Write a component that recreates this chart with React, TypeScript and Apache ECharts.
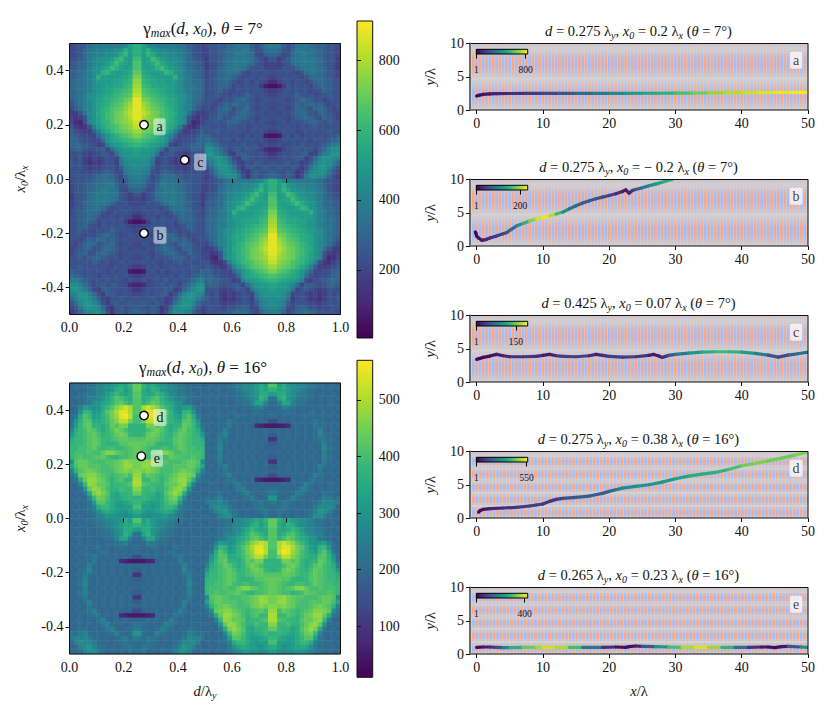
import { useEffect, useRef } from "react";
import * as echarts from "echarts";

// quadrant rows, one base-36 level per cell, half width (the field repeats mirrored about d = 0.25)
const upper7 = [
  "89abdefffffghkn", "89acefgghhijnkn", "89adfghhiijmokn", "9abdfhiijknplkp", "abcdfhijkmpmlkq",
  "bbcdgijkmpnlklq", "bcdegijnolkklmr", "bcdfginkkkklmnt", "cddfgikkkllmnou", "cdefgijkllmmopv",
  "cdefgijklmnopqw", "cdegijklmnopqrx", "bdegijlmnopqstz", "aceghjlmnpqrtvz", "8bdghjlnoqrsuwz",
  "77aeijmnpqstvxz", "867ahjlnpqstuwz", "8549hjlnoqstuvy", "a7569gkmopqstux", "b9877bgkmoqrstv",
  "cb9988cgjlnpqrt", "cca9989djlmnopq", "cdcba978gjklmno", "bcca9abb8dhjkkl", "99a8789ba8eijjk",
  "a8a76878a98fijj", "b9a75768a97ehii", "a9a87889aa8bghi", "9a998a9bcb89fgh", "9aaaabcddca8cfg",
];
const lower7 = [
  "9aabbcdeeeb9bef", "8aabcdeeffc9ade", "8aabcdeffed98bc", "7aabdeffffeb97a", "79abdefffeda978",
  "79acdeffeca9a88", "8aacdeeda89a9a9", "8abcddca89a9a98", "9abcdca89a8a985", "9abccb8a9a9a732",
  "9abca98a9a9a987", "9aba98a9aca9a98", "9a98a9bcdba89a9", "a98acbdcbca9a99", "98acdc9bcda89a8",
  "89acc9acdcb9a89", "8abc9acdcba89a9", "9ab9bccba9a8a98", "a99a9ba9a89a9a9", "9aba9a9a98a9a87",
  "caa9a9a98a8a932", "dcb9aa8a99a9a87", "gfdba9a9b9a98a8", "iigdb8ab9ba9854", "jjhfc87bbaa9a86",
  "ghjjhd97bba9a98", "dgijifb87a9ba9a", "adhjjhe97ab9aba", "8bfijihc86ab9ab", "79cghiif96ab9bc",
];
const upper16 = [
  "cdddeeghijkmlnr", "cdcdefghijmnkmr", "dcdeffhhkmomlmq", "cddegghjlnqpnmq", "dcdefijlmoqrpnq",
  "cdgkjijmoqtvxvq", "cdjonjknqsvyyvq", "dfmqoklnpsuyzwp", "djnqqmmnprtwwsp", "ekoqrnnmorqssnn",
  "gmoprqomoqsrpnn", "jnopqrpnoprsron", "moopqrqoopqrrqq", "noopqrqonnoqqrr", "ooppqrpoppoopqr",
  "opppqpprttrqpqr", "opqppqqrponppqr", "iqrrqpppqqrsuts", "lprrqqqppqrsuus", "gnqrsrqppprstst",
  "eirsttrqpopqrpu", "dfmruusrpnpqoov", "ccgoutrrqnoopqv", "dcdjrutrpnnpoot", "cdcfmsusqmlnnor",
  "dcdchosrpmlmnon", "cdcdekqqomkklmo", "dcddegmoomkjkkp", "cdcddfilmlkjikm", "dcdcdeghjjiihik",
];
const lower16 = [
  "cdcddefghhijmkq", "dcddcdefghikmln", "cdcddcdefgijmmk", "dcdcdcdeefhjnle", "cddcdccdeegllgd",
  "dcdcdcdcddefgdc", "cdcdcdecdcdedcd", "dcdddcdedcdcdcd", "cdcddfdcdcdcdc9", "dcdddfcdcdc5433",
  "cdcdgdcdcdcdcdc", "dcdehdcdcdcdcdb", "cddfedcdcdcdcd6", "dcdgdcdcdcdcdcb", "cdehdcdcdcdcdcc",
  "dcdgcdcdcdcdcdc", "cdegdcdcdcdcdcb", "dcdfcdcdcdcdcd6", "cdcegdcdcdcdcdb", "dcdcfdcdcdcdcdc",
  "cdcdegdcdcdccc9", "dcdcdefcdcd5433", "cddcdcegdcdcdcc", "dcdcdcdfgdcdcde", "cddecdcdfgdcddf",
  "edfgdcdcdegdcdj", "fgghfddcdcdefdf", "cgihhfdcdcdefdd", "cdgijgedcdcdefd", "dcdgiifdcdcdcfd",
];
const step7 = 25;
const step16 = 16;

const viridis = ["#440154", "#482878", "#3e4989", "#31688e", "#26828e", "#1f9e89", "#35b779", "#6ece58", "#b5de2b", "#fde725"];

const markers7 = [
  { name: "a", d: 0.275, x0: 0.2 },
  { name: "b", d: 0.275, x0: -0.2 },
  { name: "c", d: 0.425, x0: 0.07 },
];
const markers16 = [
  { name: "d", d: 0.275, x0: 0.38 },
  { name: "e", d: 0.265, x0: 0.23 },
];

// one period of the wave stripes and its strength in y
const stripeCycle = [1, 1, 0, -1, -1, 0];
const bands7 = [0.2, 0.55, 0.8, 0.95, 1, 1, 0.85, 0.6, 0.3, -0.1, -0.4, -0.7, -0.9, -1, -1, -0.9, -0.7, -0.35, 0.15, 0.45];
const bands16 = [
  0.6, 1, 1, 0.6, 0, -0.6, -1, -1, -0.5, 0, 0.7, 1, 0.9, 0.3, -0.3, -0.8, -1, -0.8, -0.2, 0.4, 0.9, 1, 0.7, 0.1, -0.5,
];

const aX = [0, 0.3, 1, 2, 3, 5, 7.5, 10, 12.5, 15, 17.5, 20, 22.5, 25, 27.5, 30, 32.5, 35, 37.5, 40, 42.5, 45, 47.5, 50];
const aY = [2.1, 2.2, 2.35, 2.42, 2.45, 2.48, 2.5, 2.5, 2.5, 2.5, 2.5, 2.5, 2.5, 2.52, 2.52, 2.55, 2.55, 2.58, 2.6, 2.6, 2.62, 2.65, 2.65, 2.65];
const aGamma = [1, 10, 40, 60, 75, 100, 130, 170, 210, 260, 310, 370, 420, 470, 510, 560, 620, 680, 720, 750, 780, 800, 815, 830];

const bX = [-0.2, -0.1, 0, 0.3, 0.8, 1.5, 2, 3, 4, 4.5, 5, 6, 7, 8, 9, 10, 11, 12, 13, 14, 15, 16, 17, 18, 19, 20, 21, 22, 22.5, 23, 23.5, 24, 25, 26, 27, 28, 29, 29.5];
const bY = [2.1, 1.9, 1.5, 1.2, 0.85, 1.0, 1.2, 1.5, 1.85, 2.0, 2.35, 3.0, 3.4, 3.75, 4.05, 4.3, 4.55, 4.8, 5.1, 5.6, 6.05, 6.45, 6.8, 7.1, 7.35, 7.6, 7.85, 8.2, 8.45, 7.95, 8.35, 8.5, 8.75, 9.05, 9.3, 9.6, 9.9, 10];
const bGamma = [1, 3, 6, 10, 15, 25, 30, 40, 50, 55, 65, 100, 130, 170, 210, 232, 225, 190, 130, 95, 80, 75, 70, 65, 60, 55, 40, 25, 15, 20, 30, 55, 85, 105, 125, 140, 150, 155];

const cX = [0, 1, 2, 3, 4, 5, 7, 9, 10, 11, 12, 13, 15, 17, 18, 19, 20, 22, 24, 26, 26.7, 27.5, 28, 29, 30, 32, 34, 36, 38, 40, 42, 44, 45.5, 47, 48.5, 50];
const cY = [3.4, 3.7, 3.9, 4.15, 3.95, 3.8, 3.8, 3.85, 4.0, 4.15, 3.95, 3.85, 3.8, 3.95, 4.15, 4.0, 3.85, 3.75, 3.8, 4.0, 4.15, 3.9, 3.7, 4.0, 4.15, 4.35, 4.5, 4.55, 4.55, 4.5, 4.3, 4.05, 3.75, 4.05, 4.25, 4.5];
const cGamma = [3, 6, 8, 10, 18, 25, 30, 32, 20, 12, 25, 35, 42, 35, 14, 25, 35, 40, 38, 25, 12, 15, 18, 40, 70, 90, 110, 130, 135, 118, 95, 70, 35, 55, 65, 75];

const dX = [0.3, 0.5, 1, 2, 4, 6, 8, 9, 10, 11, 12, 13, 15, 17, 19, 20, 21, 22, 24, 26, 28, 30, 32, 34, 36, 38, 40, 42, 44, 46, 48, 50];
const dY = [0.9, 1.1, 1.3, 1.4, 1.5, 1.6, 1.8, 1.95, 2.1, 2.5, 2.8, 2.95, 3.1, 3.3, 3.7, 4.0, 4.25, 4.5, 4.75, 5.0, 5.4, 5.9, 6.3, 6.6, 6.85, 7.3, 7.85, 8.2, 8.6, 9.0, 9.45, 9.9];
const dGamma = [3, 10, 25, 45, 70, 90, 105, 110, 100, 85, 95, 120, 165, 170, 165, 170, 210, 250, 280, 290, 295, 300, 340, 350, 350, 370, 420, 455, 440, 430, 425, 470];

const eX = [0, 1, 2, 3, 4, 5, 7, 9, 10, 12, 14, 16, 19, 21, 22.5, 23, 24, 25, 27, 29, 31, 33, 35, 37, 39, 41, 43, 44, 45, 46, 47, 49, 50];
const eY = [1, 1.05, 1.05, 1, 0.95, 0.95, 1, 1, 1, 1, 1, 1, 1, 1.05, 1, 1.1, 1.2, 1.15, 1.1, 1.05, 1, 1, 1, 1, 1, 1, 1.05, 1.05, 0.95, 1.1, 1.15, 1.05, 1];
const eGamma = [3, 25, 40, 80, 130, 230, 300, 350, 385, 400, 340, 250, 80, 30, 15, 15, 20, 60, 180, 250, 340, 400, 400, 320, 230, 80, 30, 20, 10, 15, 40, 190, 230];

const FONT = "Liberation Serif";
const INK = "#111";

const rich = (size: number) => ({
  i: { fontFamily: FONT, fontSize: size, fontStyle: "italic", fontWeight: "normal", color: INK, lineHeight: size + 4 },
  n: { fontFamily: FONT, fontSize: size, fontWeight: "normal", color: INK, lineHeight: size + 4 },
  s: { fontFamily: FONT, fontSize: size * 0.7, fontStyle: "italic", fontWeight: "normal", color: INK, verticalAlign: "bottom", lineHeight: size * 0.7 + 1 },
});

const panels = [
  { tag: "a", top: 43.5, x: aX, y: aY, g: aGamma, tick: 800, max: 832, period: 1, bands: bands7, title: "{i|d}{n| = 0.275 λ}{s|y}{n|, }{i|x}{s|0}{n| = 0.2 λ}{s|x}{n| (}{i|θ}{n| = 7°)}" },
  { tag: "b", top: 179.5, x: bX, y: bY, g: bGamma, tick: 200, max: 235, period: 1, bands: bands7, title: "{i|d}{n| = 0.275 λ}{s|y}{n|, }{i|x}{s|0}{n| = − 0.2 λ}{s|x}{n| (}{i|θ}{n| = 7°)}" },
  { tag: "c", top: 315.5, x: cX, y: cY, g: cGamma, tick: 150, max: 194, period: 1, bands: bands7, title: "{i|d}{n| = 0.425 λ}{s|y}{n|, }{i|x}{s|0}{n| = 0.07 λ}{s|x}{n| (}{i|θ}{n| = 7°)}" },
  { tag: "d", top: 451.5, x: dX, y: dY, g: dGamma, tick: 550, max: 561, period: 1.04, bands: bands16, title: "{i|d}{n| = 0.275 λ}{s|y}{n|, }{i|x}{s|0}{n| = 0.38 λ}{s|x}{n| (}{i|θ}{n| = 16°)}" },
  { tag: "e", top: 587.5, x: eX, y: eY, g: eGamma, tick: 400, max: 425, period: 1.04, bands: bands16, title: "{i|d}{n| = 0.265 λ}{s|y}{n|, }{i|x}{s|0}{n| = 0.23 λ}{s|x}{n| (}{i|θ}{n| = 16°)}" },
];

const reverse = (s: string) => s.split("").reverse().join("");

function fieldCells(upper: string[], lower: string[], step: number) {
  const rows: string[] = [];
  upper.forEach((u, i) => rows.push(u + reverse(u) + lower[i] + reverse(lower[i])));
  lower.forEach((l, i) => rows.push(l + reverse(l) + upper[i] + reverse(upper[i])));
  const cells: number[][] = [];
  rows.forEach((row, r) => {
    row.split("").forEach((ch, c) => cells.push([c, rows.length - 1 - r, parseInt(ch, 36) * step]));
  });
  return cells;
}

function stripeCells(period: number, bands: number[]) {
  const cols = Math.round((51 / period) * stripeCycle.length);
  const cells: number[][] = [];
  // the first two columns stay bare: the picture has a plain band next to the left spine
  for (let c = 2; c < cols; c++) {
    const v = stripeCycle[(c + 1) % stripeCycle.length];
    if (!v) continue;
    bands.forEach((b, r) => {
      if (b) cells.push([c, r, v * b]);
    });
  }
  return { cols, cells };
}

const indexList = (n: number) => Array.from({ length: n }, (_, i) => i);
const gradient = (x2: number, y2: number) =>
  new echarts.graphic.LinearGradient(0, y2, x2, 0, viridis.map((color, i) => ({ offset: i / (viridis.length - 1), color })));

export default function App() {
  const ref = useRef<HTMLDivElement>(null);

  useEffect(() => {
    if (!ref.current) return;
    const chart = echarts.init(ref.current, undefined, { renderer: "svg" });

    const grid: any[] = [];
    const xAxis: any[] = [];
    const yAxis: any[] = [];
    const series: any[] = [];
    const visualMap: any[] = [];
    const title: any[] = [];

    const addGrid = (g: any) => grid.push(g) - 1;
    const hiddenCat = (gridIndex: number, n: number) => ({ type: "category", gridIndex, show: false, data: indexList(n) });
    const valueAxis = (gridIndex: number, min: number, max: number, ticks: number[], fmt: (v: number) => string, extra: any = {}) => ({
      type: "value",
      gridIndex,
      min,
      max,
      z: 5,
      splitLine: { show: false },
      axisLine: { show: false },
      axisTick: { show: true, length: 4, lineStyle: { color: INK, width: 1 }, customValues: ticks },
      axisLabel: { show: true, margin: 6, color: INK, fontFamily: FONT, fontSize: 14, customValues: ticks, formatter: fmt },
      ...extra,
    });

    const mainTicks = [0, 0.2, 0.4, 0.6, 0.8, 1];
    const sideTicks = [-0.4, -0.2, 0, 0.2, 0.4];

    const addMain = (
      top: number,
      upper: string[],
      lower: string[],
      step: number,
      min: number,
      max: number,
      cbTop: number,
      cbTicks: number[],
      markers: { name: string; d: number; x0: number }[],
      heading: string,
      headingY: number,
      showX: boolean
    ) => {
      const hg = addGrid({ left: 69.5, top, width: 271, height: 271 });
      xAxis.push(hiddenCat(hg, 60));
      yAxis.push(hiddenCat(hg, 60));
      const hx = xAxis.length - 1;
      visualMap.push({ show: false, type: "continuous", seriesIndex: series.length, dimension: 2, min, max, inRange: { color: viridis } });
      series.push({ type: "heatmap", xAxisIndex: hx, yAxisIndex: hx, data: fieldCells(upper, lower, step), progressive: 0, silent: true, z: 2 });

      const og = addGrid({ left: 69.5, top, width: 271, height: 271, show: true, z: 5, backgroundColor: "transparent", borderColor: INK, borderWidth: 1 });
      xAxis.push(
        valueAxis(og, 0, 1, mainTicks, (v) => v.toFixed(1), showX
          ? { name: "{i|d}{n|/λ}{s|y}", nameLocation: "middle", nameGap: 28, nameTextStyle: { rich: rich(14.5) } }
          : {})
      );
      yAxis.push(
        valueAxis(og, -0.5, 0.5, sideTicks, (v) => v.toFixed(1), {
          name: "{i|x}{s|0}{n|/λ}{s|x}",
          nameLocation: "middle",
          nameRotate: 90,
          nameGap: 40,
          nameTextStyle: { rich: rich(14.5) },
        })
      );
      const ox = xAxis.length - 1;
      series.push({
        type: "scatter",
        xAxisIndex: ox,
        yAxisIndex: ox,
        z: 6,
        symbolSize: 8.5,
        itemStyle: { color: "#fff", borderColor: "#000", borderWidth: 1.4, opacity: 1 },
        label: {
          show: true,
          position: "right",
          distance: 4.5,
          offset: [0, 2],
          formatter: (p: any) => p.name,
          fontFamily: FONT,
          fontSize: 14,
          lineHeight: 13,
          color: INK,
          backgroundColor: "rgba(255,255,255,0.5)",
          padding: [2, 3],
          borderRadius: 2,
        },
        data: markers.map((m) => ({ name: m.name, value: [m.d, m.x0] })),
      });

      const cg = addGrid({
        left: 357, top: cbTop, width: 15.7, height: 317, show: true, z: 5,
        backgroundColor: gradient(0, 1), borderColor: INK, borderWidth: 1,
      });
      xAxis.push({ type: "value", gridIndex: cg, show: false, min: 0, max: 1 });
      yAxis.push(valueAxis(cg, min, max, cbTicks, (v) => String(v), { position: "right" }));

      title.push({
        text: heading,
        left: 203,
        top: headingY - 10.5,
        padding: 0,
        textAlign: "center",
        textStyle: { rich: rich(17), fontWeight: "normal" },
      });
    };

    addMain(43.5, upper7, lower7, step7, 5, 912, 21, [200, 400, 600, 800], markers7, "{n|γ}{s|max}{n|(}{i|d}{n|, }{i|x}{s|0}{n|), }{i|θ}{n| = 7°}", 28, false);
    addMain(383, upper16, lower16, step16, 10, 570, 360.3, [100, 200, 300, 400, 500], markers16, "{n|γ}{s|max}{n|(}{i|d}{n|, }{i|x}{s|0}{n|), }{i|θ}{n| = 16°}", 367, true);

    const stripeMapSeries: number[] = [];
    panels.forEach((p, idx) => {
      const { cols, cells } = stripeCells(p.period, p.bands);
      const bg = addGrid({ left: 470, top: p.top, width: 338, height: 66.5, show: true, backgroundColor: "#d3d3d3", borderWidth: 0 });
      xAxis.push(hiddenCat(bg, cols));
      yAxis.push(hiddenCat(bg, p.bands.length));
      const bi = xAxis.length - 1;
      stripeMapSeries.push(series.length);
      series.push({ type: "heatmap", xAxisIndex: bi, yAxisIndex: bi, data: cells, progressive: 0, silent: true, z: 2 });

      const og = addGrid({ left: 470, top: p.top, width: 338, height: 66.5, show: true, z: 5, backgroundColor: "transparent", borderColor: INK, borderWidth: 1 });
      xAxis.push(
        valueAxis(og, -1, 50, [0, 10, 20, 30, 40, 50], (v) => String(v), idx === panels.length - 1
          ? { name: "{i|x}{n|/λ}", nameLocation: "middle", nameGap: 28, nameTextStyle: { rich: rich(14.5) } }
          : {})
      );
      yAxis.push(
        valueAxis(og, 0, 10, [0, 5, 10], (v) => String(v), {
          name: "{i|y}{n|/λ}",
          nameLocation: "middle",
          nameRotate: 90,
          nameGap: 31,
          nameTextStyle: { rich: rich(14.5) },
          axisLine: { show: true, onZero: false, lineStyle: { color: "#6a6a6a", width: 2 } },
        })
      );
      const oi = xAxis.length - 1;
      visualMap.push({ show: false, type: "continuous", seriesIndex: series.length, dimension: 4, min: 1, max: p.max, inRange: { color: viridis } });
      series.push({
        type: "custom",
        xAxisIndex: oi,
        yAxisIndex: oi,
        z: 4,
        clip: true,
        encode: { x: 0, y: 1 },
        data: p.x.slice(0, -1).map((x, i) => [x, p.y[i], p.x[i + 1], p.y[i + 1], (p.g[i] + p.g[i + 1]) / 2]),
        renderItem: (_: any, api: any) => {
          const a = api.coord([api.value(0), api.value(1)]);
          const b = api.coord([api.value(2), api.value(3)]);
          return {
            type: "line",
            shape: { x1: a[0], y1: a[1], x2: b[0], y2: b[1] },
            style: { stroke: api.visual("color"), lineWidth: 3.2, lineCap: "round" },
          };
        },
      });
      series.push({
        type: "scatter",
        xAxisIndex: oi,
        yAxisIndex: oi,
        z: 6,
        symbolSize: 0,
        data: [{ name: p.tag, value: [48.2, 7.5] }],
        label: {
          show: true,
          position: "inside",
          formatter: (d: any) => d.name,
          fontFamily: FONT,
          fontSize: 14,
          lineHeight: 13,
          color: INK,
          backgroundColor: "rgba(255,255,255,0.9)",
          padding: [2, 3],
          borderRadius: 2,
        },
      });

      const cg = addGrid({
        left: 476.3, top: p.top + 5.8, width: 51.4, height: 4.7, show: true, z: 8,
        backgroundColor: gradient(1, 0), borderColor: "#000", borderWidth: 1,
      });
      xAxis.push({
        type: "value",
        gridIndex: cg,
        min: 1,
        max: p.max,
        z: 8,
        splitLine: { show: false },
        axisLine: { show: false },
        axisTick: { show: true, length: 4.5, lineStyle: { color: "#000", width: 1 }, customValues: [1, p.tick] },
        axisLabel: {
          show: true, margin: 11, color: INK, fontFamily: FONT, fontSize: 9.5, customValues: [1, p.tick],
          showMinLabel: true, showMaxLabel: true, hideOverlap: false, formatter: (v: number) => String(v),
        },
      });
      yAxis.push({ type: "value", gridIndex: cg, show: false, min: 0, max: 1 });

      title.push({
        text: p.title,
        left: 638.5,
        top: p.top - 21.5,
        padding: 0,
        textAlign: "center",
        textStyle: { rich: rich(14.5), fontWeight: "normal" },
      });
    });
    visualMap.push({ show: false, type: "continuous", seriesIndex: stripeMapSeries, dimension: 2, min: -1, max: 1, inRange: { color: ["#a2bbfa", "#d3d3d3", "#f6a78a"] } });

    chart.setOption({ animation: false, backgroundColor: "#fff", textStyle: { fontFamily: FONT }, title, grid, xAxis, yAxis, visualMap, series });
    return () => chart.dispose();
  }, []);

  return <div ref={ref} style={{ position: "absolute", left: 0, top: 0, width: 830, height: 720 }} />;
}
